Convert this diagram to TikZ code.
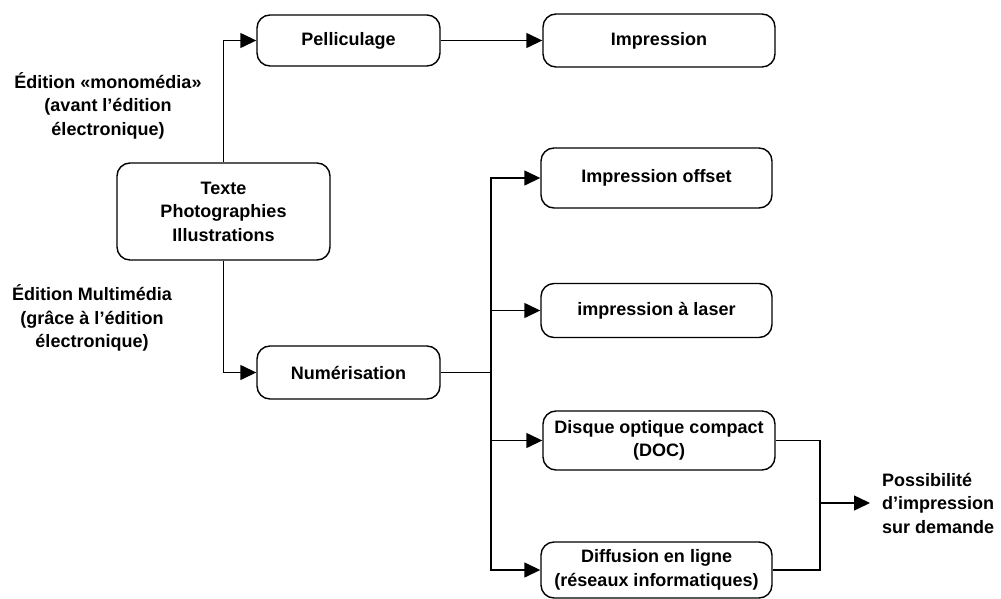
\documentclass[tikz,border=0pt]{standalone}
\usepackage{fontspec}
\setmainfont{Liberation Sans}
\usetikzlibrary{arrows.meta}
\begin{document}
\begin{tikzpicture}[x=1pt,y=-1pt,
  txt/.style={font=\fontsize{18}{23.5}\selectfont\bfseries, align=center, inner sep=0pt},
  box/.style={txt, draw, line width=1.4pt, rounded corners=13pt},
  conn/.style={line width=1.4pt},
  arr/.style={conn, -{Triangle[length=16pt,width=15pt]}}]
\useasboundingbox (0,0) rectangle (1001,599);
\node[box, minimum width=183pt, minimum height=51pt] (pell) at (348.5,40.5) {Pelliculage};
\node[box, minimum width=232pt, minimum height=53pt] (impr) at (659,40.5) {Impression};
\node[box, minimum width=213pt, minimum height=97pt] (texte) at (223.5,211.5) {Texte\\Photographies\\Illustrations};
\node[box, minimum width=183pt, minimum height=53pt] (num) at (348.5,372.5) {Numérisation};
\node[box, minimum width=231pt, minimum height=60pt] (off) at (656.5,178) {Impression offset};
\node[box, minimum width=231pt, minimum height=54pt] (laser) at (656.5,310.5) {impression à laser};
\node[box, minimum width=232pt, minimum height=59pt] (doc) at (659,440.5) {Disque optique compact\\(DOC)};
\node[box, minimum width=231pt, minimum height=56pt] (diff) at (656.5,570) {Diffusion en ligne\\(réseaux informatiques)};
\node[txt, anchor=west, align=left, inner xsep=12pt] (poss) at (870,503) {Possibilité\\d’impression\\sur demande};
\node[txt] (mono) at (108,105.5) {Édition «monomédia»\\(avant l’édition\\électronique)};
\node[txt] (multi) at (92,318) {Édition Multimédia\\(grâce à l’édition\\électronique)};
\coordinate (bus) at (491,372.5);
\coordinate (join) at (820,503);
\draw[arr] (texte.north) |- (pell.west);
\draw[arr] (texte.south) |- (num.west);
\draw[arr] (pell.east) -- (impr.west);
\draw[conn] (num.east) -- (bus);
\draw[arr] (bus) |- (off.west);
\draw[arr] (bus) |- (laser.west);
\draw[arr] (bus) |- (doc.west);
\draw[arr] (bus) |- (diff.west);
\draw[conn] (doc.east) -| (join);
\draw[conn] (diff.east) -| (join);
\draw[arr] (join) -- (poss.west);
\end{tikzpicture}
\end{document}
